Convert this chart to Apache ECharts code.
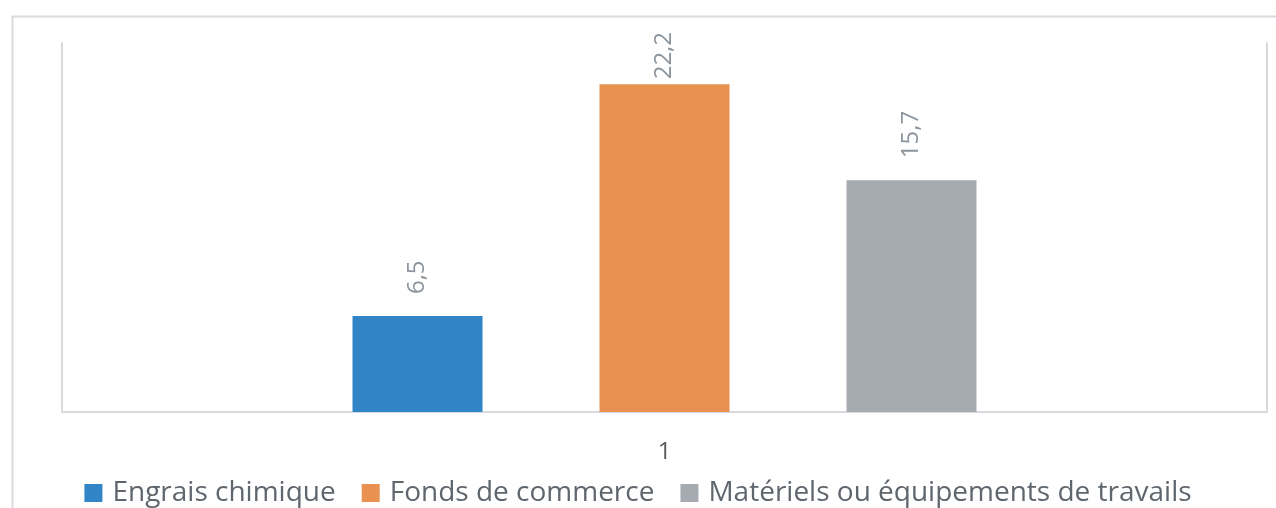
<!DOCTYPE html>
<html>
<head>
<meta charset="utf-8">
<script src="https://cdn.jsdelivr.net/npm/echarts@6/dist/echarts.min.js"></script>
<style>
html,body{margin:0;padding:0;background:#fff;}
#main{width:1276px;height:508px;}
</style>
</head>
<body>
<div id="main"></div>
<script>
var categories = ['1'];
var seriesNames = ['Engrais chimique', 'Fonds de commerce', 'Matériels ou équipements de travails'];
var seriesValues = [[6.5], [22.2], [15.7]];
var seriesColors = ['#3185c6', '#e89150', '#a6abb2'];

var myChart = echarts.init(document.getElementById('main'));
var lineColor = '#d9dadf';
var yMax = 25;

//一个分类三个系列
var series = [];
for (var i = 0; i < seriesNames.length; i++) {
    //标签太高时压到柱子上方
    var dist = seriesValues[i][0] > 20 ? 5 : 22;
    series.push({
        name: seriesNames[i],
        type: 'bar',
        data: seriesValues[i],
        barWidth: 130,
        barGap: '90%',
        itemStyle: { color: seriesColors[i] },
        label: {
            show: true,
            position: 'top',
            rotate: 90,
            align: 'left',
            verticalAlign: 'middle',
            distance: dist,
            color: '#8c959e',
            fontSize: 24,
            fontFamily: 'Open Sans',
            formatter: function (p) {
                return String(p.value).replace('.', ',');
            }
        }
    });
}

var option = {
    animation: false,
    graphic: [{
        type: 'rect',
        shape: { x: 12.5, y: 16.5, width: 1400, height: 700 },
        style: { fill: 'none', stroke: lineColor, lineWidth: 2 }
    }],
    legend: {
        data: seriesNames,
        bottom: -4,
        left: 'center',
        itemWidth: 18,
        itemHeight: 18,
        itemGap: 26,
        icon: 'rect',
        textStyle: { fontSize: 28, color: '#5f666d', fontFamily: 'Open Sans', padding: [0, 0, 0, 5] }
    },
    grid: { left: 62, right: 9, top: 43, bottom: 96 },
    xAxis: {
        type: 'category',
        data: categories,
        axisLine: { lineStyle: { color: lineColor, width: 2 } },
        axisTick: { show: false },
        axisLabel: { fontSize: 24, color: '#595959', margin: 28, fontFamily: 'Open Sans' }
    },
    yAxis: [{
        type: 'value',
        min: 0,
        max: yMax,
        axisLine: { show: true, lineStyle: { color: lineColor, width: 2 } },
        axisLabel: { show: false },
        axisTick: { show: false },
        splitLine: { show: false }
    }, {
        type: 'value',
        position: 'right',
        min: 0,
        max: yMax,
        axisLine: { show: true, lineStyle: { color: lineColor, width: 2 } },
        axisLabel: { show: false },
        axisTick: { show: false },
        splitLine: { show: false }
    }],
    series: series
};
myChart.setOption(option);
</script>
</body>
</html>
